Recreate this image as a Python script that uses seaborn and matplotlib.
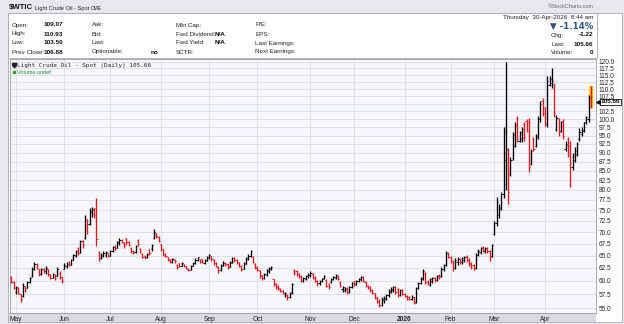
import numpy as np
import pandas as pd
import matplotlib
matplotlib.use("Agg")
import matplotlib.pyplot as plt
from matplotlib.ticker import FixedLocator, NullLocator, FixedFormatter
from matplotlib.patches import Rectangle
import seaborn as sns

# ---------------- data ----------------
holidays = ["2025-05-26", "2025-06-19", "2025-07-04", "2025-09-01", "2025-11-27",
            "2025-12-25", "2026-01-01", "2026-01-19", "2026-02-16", "2026-04-03"]
start_date, end_date = "2025-04-29", "2026-04-30"

opens = [
    # Apr29 - May
    60.8, 59.8, 58.0, 58.6, 57.5, 57.2, 59.0, 58.7, 59.8, 61.0, 62.3, 63.2, 62.2, 61.4, 62.3, 61.8, 62.2, 61.3, 60.6, 61.2, 61.0, 61.6, 60.7,
    # Jun
    62.3, 62.8, 63.6, 63.1, 64.1, 65.0, 66.6, 65.6, 68.0, 68.6, 72.8, 71.8, 74.5, 75.4, 75.5, 65.8, 64.4, 65.0, 65.2, 65.5,
    # Jul
    65.0, 66.0, 67.0, 66.6, 67.6, 68.3, 67.6, 68.6, 67.8, 66.6, 66.0, 65.7, 68.2, 66.4, 65.4, 65.0, 64.7, 66.2, 66.4, 68.6, 69.8, 69.0,
    # Aug
    67.4, 66.3, 65.3, 64.6, 64.2, 63.6, 64.1, 63.1, 63.4, 62.9, 63.2, 62.8, 62.3, 62.1, 62.9, 63.4, 64.0, 64.2, 64.2, 63.4, 63.9,
    # Sep
    64.4, 64.9, 64.1, 63.4, 62.7, 62.0, 62.9, 63.5, 63.2, 62.7, 63.5, 64.5, 64.1, 63.5, 62.9, 62.3, 63.3, 64.2, 65.0, 64.8, 63.3,
    # Oct
    62.6, 61.9, 61.1, 60.6, 61.2, 61.8, 62.2, 60.3, 59.4, 59.1, 58.5, 58.2, 57.5, 57.4, 57.0, 57.8, 62.0, 61.8, 61.4, 61.0, 60.0, 60.4, 60.9,
    # Nov
    61.1, 61.3, 60.7, 60.0, 59.5, 60.0, 60.6, 60.2, 59.4, 59.8, 60.4, 60.6, 61.0, 59.8, 58.4, 58.2, 58.6, 58.0, 58.8,
    # Dec
    59.9, 59.4, 59.9, 60.3, 60.7, 59.8, 59.0, 58.8, 58.2, 57.7, 57.0, 56.3, 55.6, 56.5, 56.7, 57.3, 58.0, 58.3, 58.8, 58.4, 57.4, 58.2,
    # Jan
    57.6, 57.2, 57.0, 56.6, 57.0, 56.2, 58.6, 59.6, 60.4, 61.5, 60.0, 59.2, 60.0, 60.6, 60.2, 61.2, 61.0, 62.2, 63.0, 65.6,
    # Feb
    64.8, 63.8, 62.4, 63.6, 64.3, 63.6, 64.0, 64.9, 64.0, 63.4, 63.0, 62.4, 65.2, 65.8, 66.7, 66.0, 66.6, 66.0, 65.0,
    # Mar
    69.6, 72.0, 73.8, 75.5, 79.0, 88.0, 90.8, 84.0, 88.5, 92.0, 100.5, 93.5, 94.0, 98.5, 99.5, 99.0, 87.0, 94.0, 92.0, 94.5, 100.0, 106.0,
    # Apr
    103.5, 98.5, 111.5, 112.0, 110.0, 97.0, 100.0, 96.5, 99.5, 91.0, 94.0, 92.0, 86.0, 88.0, 89.5, 94.0, 95.5, 96.5, 99.0, 100.0, 109.07,
]
highs = [
    61.0, 60.0, 59.1, 58.8, 57.6, 59.5, 59.0, 60.0, 60.8, 62.6, 63.6, 63.4, 62.3, 62.5, 62.5, 62.8, 62.3, 61.4, 61.6, 61.4, 62.6, 61.8, 60.8,
    63.4, 63.6, 63.8, 64.3, 65.4, 66.2, 66.8, 68.3, 68.2, 73.9, 73.0, 75.6, 75.8, 75.5, 78.0, 66.0, 65.6, 66.0, 66.0, 65.6,
    66.2, 67.0, 67.2, 68.0, 68.6, 68.4, 67.8, 68.8, 68.0, 66.8, 66.2, 67.2, 68.4, 66.5, 65.5, 65.1, 65.6, 66.4, 67.4, 70.6, 69.9, 69.2,
    67.4, 66.4, 65.5, 64.8, 64.3, 64.5, 64.2, 63.2, 63.5, 63.7, 63.3, 62.9, 62.4, 63.1, 63.7, 64.4, 64.8, 64.3, 64.3, 64.2, 65.0,
    65.4, 65.0, 64.3, 63.6, 62.8, 63.3, 63.8, 63.6, 63.4, 63.9, 64.7, 64.6, 64.2, 63.6, 63.0, 63.7, 64.6, 65.4, 66.2, 65.0, 63.4,
    62.8, 62.0, 61.2, 61.6, 62.2, 62.7, 62.8, 60.4, 59.5, 59.2, 58.6, 58.3, 58.0, 57.6, 58.0, 59.6, 62.2, 62.0, 61.6, 61.2, 60.8, 61.2, 61.5,
    61.8, 61.5, 60.9, 60.1, 60.2, 60.6, 61.2, 60.4, 59.6, 60.6, 61.0, 61.3, 61.2, 60.0, 59.0, 58.8, 58.8, 59.0, 59.8,
    60.0, 60.2, 60.6, 60.9, 60.9, 59.9, 59.2, 59.0, 58.5, 57.8, 57.1, 56.6, 57.0, 57.2, 57.6, 58.4, 58.8, 59.0, 59.0, 58.6, 58.4, 58.4,
    57.8, 57.4, 57.2, 57.3, 57.1, 58.8, 59.8, 60.8, 62.2, 61.7, 60.2, 60.6, 60.8, 60.8, 61.2, 61.4, 62.6, 63.2, 66.0, 65.8,
    65.0, 64.0, 64.4, 64.6, 64.5, 64.8, 65.0, 65.2, 64.4, 63.6, 63.2, 65.6, 66.3, 66.8, 66.9, 66.8, 66.8, 66.2, 67.4,
    72.5, 78.1, 76.5, 79.5, 97.6, 120.0, 91.2, 88.8, 96.2, 99.0, 101.0, 96.5, 97.5, 99.0, 100.0, 100.5, 91.0, 94.7, 95.5, 101.0, 106.0, 106.8,
    104.0, 114.5, 114.5, 117.5, 112.0, 101.5, 100.5, 99.5, 100.0, 93.5, 94.7, 93.3, 90.0, 91.5, 93.0, 97.3, 97.5, 99.3, 101.0, 108.0, 110.93,
]
lows = [
    59.6, 58.4, 57.6, 57.6, 56.2, 57.0, 58.0, 58.6, 59.5, 60.8, 62.0, 62.2, 60.9, 61.2, 61.6, 61.4, 61.0, 60.3, 60.5, 60.2, 61.0, 60.4, 59.6,
    62.2, 62.5, 62.8, 63.0, 64.0, 64.8, 65.2, 65.5, 66.5, 68.5, 69.6, 71.5, 73.5, 73.3, 67.0, 63.9, 64.2, 64.8, 64.8, 64.6,
    64.9, 65.8, 66.2, 66.5, 67.3, 67.6, 66.6, 67.3, 67.0, 65.6, 65.4, 65.5, 67.0, 65.5, 64.5, 64.3, 64.5, 65.2, 66.0, 68.4, 68.8, 67.8,
    66.0, 64.9, 64.6, 63.8, 63.4, 63.4, 63.5, 62.2, 62.6, 62.8, 62.6, 62.3, 61.8, 62.0, 62.8, 63.3, 63.9, 63.4, 63.5, 63.3, 63.8,
    64.2, 63.9, 63.0, 62.6, 61.5, 61.9, 62.8, 62.8, 62.3, 62.6, 63.4, 63.6, 63.2, 62.6, 61.8, 62.2, 63.2, 64.0, 64.8, 63.4, 62.2,
    61.8, 60.6, 60.2, 60.4, 61.0, 61.6, 62.0, 59.0, 58.4, 58.3, 57.9, 57.6, 57.0, 56.5, 56.8, 57.6, 61.2, 61.0, 60.6, 59.8, 59.7, 60.2, 60.6,
    60.8, 60.4, 59.8, 59.0, 59.3, 59.8, 60.4, 58.8, 58.5, 59.6, 60.2, 60.4, 60.2, 58.8, 58.0, 57.9, 57.6, 57.8, 58.6,
    59.0, 59.2, 59.7, 60.0, 59.8, 58.8, 58.4, 58.0, 57.5, 56.6, 56.0, 55.3, 55.4, 56.0, 56.5, 57.0, 57.8, 58.0, 57.6, 57.0, 57.2, 57.4,
    57.0, 56.4, 56.4, 56.4, 55.7, 56.0, 58.4, 59.4, 60.2, 59.4, 59.2, 59.0, 59.6, 59.8, 60.0, 60.4, 60.8, 61.8, 62.8, 64.4,
    63.4, 61.8, 62.2, 63.0, 63.2, 63.2, 63.6, 63.6, 62.8, 62.2, 62.0, 62.2, 65.0, 65.4, 65.8, 65.6, 65.6, 63.9, 64.8,
    69.3, 71.4, 73.3, 75.0, 78.0, 80.0, 76.6, 83.7, 88.0, 91.6, 93.0, 93.0, 93.0, 93.5, 96.0, 84.6, 86.5, 90.4, 91.5, 94.0, 99.3, 101.2,
    98.0, 97.6, 111.0, 110.5, 100.8, 96.5, 95.0, 96.0, 94.0, 90.5, 88.7, 80.6, 85.3, 87.5, 89.0, 93.5, 94.8, 96.0, 98.5, 99.3, 103.50,
]
closes = [
    59.8, 58.7, 58.8, 57.8, 56.6, 59.1, 58.3, 59.8, 60.6, 62.2, 63.3, 62.5, 61.3, 62.2, 61.9, 62.4, 61.3, 60.6, 61.3, 60.6, 62.2, 60.8, 60.0,
    63.0, 63.3, 63.1, 64.1, 65.2, 65.9, 65.5, 68.0, 67.3, 73.0, 71.8, 74.9, 75.2, 74.0, 68.5, 64.4, 65.2, 65.6, 65.8, 65.0,
    66.0, 66.8, 66.5, 67.8, 68.3, 67.8, 67.0, 67.8, 67.3, 65.9, 65.6, 66.9, 67.4, 65.7, 64.8, 64.6, 65.3, 65.5, 67.1, 70.0, 69.2, 68.0,
    66.3, 65.2, 64.9, 64.0, 63.7, 64.2, 63.8, 62.6, 62.9, 63.4, 62.9, 62.5, 62.0, 62.9, 63.5, 64.1, 64.6, 63.7, 63.8, 64.0, 64.6,
    65.1, 64.2, 63.4, 62.9, 62.0, 63.0, 63.5, 63.1, 62.6, 63.6, 64.5, 64.0, 63.6, 62.9, 62.2, 63.5, 64.4, 65.0, 65.9, 63.6, 62.5,
    62.0, 61.0, 60.6, 61.3, 62.0, 62.4, 62.6, 59.4, 58.8, 58.6, 58.1, 57.9, 57.8, 57.0, 57.8, 59.4, 61.5, 61.3, 60.9, 60.0, 60.5, 61.0, 61.2,
    61.6, 60.6, 60.0, 59.4, 60.0, 60.4, 61.0, 59.0, 58.8, 60.4, 60.8, 61.1, 60.4, 59.0, 58.8, 58.5, 57.9, 58.8, 59.5,
    59.2, 60.0, 60.4, 60.7, 60.0, 59.1, 58.7, 58.3, 57.8, 56.9, 56.2, 55.6, 56.7, 56.9, 57.3, 58.1, 58.5, 58.8, 57.9, 57.3, 58.2, 57.6,
    57.2, 56.7, 56.6, 57.1, 56.0, 58.6, 59.5, 60.5, 61.8, 59.8, 59.5, 60.3, 60.6, 60.1, 61.0, 60.7, 62.3, 63.0, 65.5, 64.8,
    63.8, 62.4, 64.0, 64.3, 63.6, 64.5, 64.8, 64.0, 63.2, 62.6, 62.4, 65.2, 66.0, 66.5, 66.1, 66.6, 65.9, 64.6, 67.2,
    72.0, 77.0, 75.8, 79.0, 96.0, 91.0, 79.5, 88.0, 95.2, 98.2, 94.0, 96.0, 97.0, 94.5, 96.5, 86.0, 90.5, 91.0, 95.0, 100.0, 105.0, 102.0,
    98.5, 113.0, 113.5, 113.0, 102.0, 100.5, 96.0, 99.0, 95.0, 92.5, 89.5, 87.0, 89.0, 90.5, 92.5, 96.0, 96.8, 99.0, 100.6, 106.88, 105.66,
]

price_ticks = [55.0, 57.5, 60.0, 62.5, 65.0, 67.5, 70.0, 72.5, 75.0, 77.5, 80.0, 82.5, 85.0,
               87.5, 90.0, 92.5, 95.0, 97.5, 100.0, 102.5, 105.0, 107.5, 110.0, 112.5,
               115.0, 117.5, 120.0]
last_price = 105.66

# ---------------- figure ----------------
sns.set_theme(style="white")
plt.rcParams["font.family"] = ["Liberation Sans", "DejaVu Sans"]

W, H = 624, 324
fig = plt.figure(figsize=(W / 100, H / 100), dpi=100)
fig.patch.set_facecolor("#e7e8eb")

def fx(px):
    return px / W

def fy(py):
    return 1 - py / H

# content background, header box and bottom date strip (behind the axes)
fig.add_artist(Rectangle((fx(8), fy(322)), fx(614), 309 / H, transform=fig.transFigure,
                         facecolor="white", edgecolor="#a8aab0", lw=0.6, zorder=-3))
fig.add_artist(Rectangle((fx(8), fy(58)), fx(589), 45 / H, transform=fig.transFigure,
                         facecolor="white", edgecolor="#a8aab0", lw=0.6, zorder=-2))
fig.add_artist(Rectangle((fx(9), fy(322)), fx(587), 9 / H, transform=fig.transFigure,
                         facecolor="#d9dbe0", edgecolor="none", zorder=-2))

# title line
fig.text(fx(9), fy(8), "$WTIC", fontsize=5.6, fontweight="bold", va="center", color="#111")
fig.text(fx(35), fy(8.5), "Light Crude Oil - Spot", fontsize=4.1, va="center", color="#222")
fig.text(fx(91), fy(8.5), "CME", fontsize=3.6, va="center", color="#222")
fig.text(fx(594), fy(7), "\u00a9StockCharts.com", fontsize=4.0, va="center", ha="right", color="#666")

# header table
lab_kw = dict(fontsize=4.5, va="center", color="#222")
val_kw = dict(fontsize=4.6, va="center", color="#111", fontweight="bold")
rows_y = [25, 34, 43, 52]
col1 = ["Open:", "High:", "Low:", "Prev Close:"]
col1v = ["109.07", "110.93", "103.50", "106.88"]
col2 = ["Ask:", "Bid:", "Last:", "Optionable:"]
col3 = ["Mkt Cap:", "Fwd Dividend:", "Fwd Yield:", "SCTR:"]
col3v = ["", "N/A", "N/A", ""]
col4 = ["P/E:", "EPS:", "Last Earnings:", "Next Earnings:"]
for r, yy in enumerate(rows_y):
    fig.text(fx(12), fy(yy), col1[r], **lab_kw)
    fig.text(fx(44), fy(yy), col1v[r], **val_kw)
    fig.text(fx(92), fy(yy), col2[r], **lab_kw)
    fig.text(fx(176), fy(yy), col3[r], **lab_kw)
    if col3v[r]:
        fig.text(fx(215), fy(yy), col3v[r], **val_kw)
    fig.text(fx(255), fy(yy), col4[r], **lab_kw)
fig.text(fx(158), fy(52), "no", ha="right", **val_kw)

fig.text(fx(593), fy(17), "Thursday  30-Apr-2026  8:44 am", ha="right", **lab_kw)
fig.text(fx(593), fy(26), "\u25bc -1.14%", ha="right", fontsize=6.2, fontweight="bold",
         va="center", color="#30508c", family=["DejaVu Sans"])
fig.text(fx(551), fy(35), "Chg:", **lab_kw)
fig.text(fx(593), fy(35), "-1.22", ha="right", **val_kw)
fig.text(fx(551), fy(44), "Last:", **lab_kw)
fig.text(fx(593), fy(44), "105.66", ha="right", **val_kw)
fig.text(fx(551), fy(53), "Volume:", **lab_kw)
fig.text(fx(593), fy(53), "0", ha="right", **val_kw)

# ---------------- price panel ----------------
ax = fig.add_axes([fx(10), fy(313), 586 / W, 254 / H])
ax.set_facecolor("#f5f7fb")

dates = pd.bdate_range(start_date, end_date, freq="C", holidays=holidays)
df = pd.DataFrame({"date": dates[:len(closes)], "open": opens, "high": highs,
                   "low": lows, "close": closes})
df["x"] = np.arange(len(df))
df["color"] = np.where(df["close"] >= df["open"], "#000000", "#e8161c")

# month ticks
mstart = df.index[(df["date"].dt.month != df["date"].dt.month.shift(1))][1:]
mlabels = ["2026" if df.loc[i, "date"].month == 1 else df.loc[i, "date"].strftime("%b")
           for i in mstart]

ax.set_yscale("log")
ax.set_ylim(54.2, 121.0)
ax.set_xlim(-0.6, 254.2)
ax.yaxis.set_major_locator(FixedLocator(price_ticks))
ax.yaxis.set_minor_locator(NullLocator())
# the 105.0 label is hidden behind the last-price tag in the reference
ax.yaxis.set_major_formatter(FixedFormatter(
    ["" if abs(t - 105.0) < 0.01 else f"{t:.1f}" for t in price_ticks]))
ax.yaxis.tick_right()
ax.tick_params(axis="y", labelsize=4.7, length=0, pad=2, labelcolor="#222")
ax.set_xticks(list(mstart))
ax.set_xticklabels(mlabels)
ax.tick_params(axis="x", labelsize=4.8, length=0, pad=2.0, labelcolor="#222")
for t in ax.get_xticklabels():
    if t.get_text() == "2026":
        t.set_fontweight("bold")
ax.grid(True, which="major", color="#d9dde5", lw=0.6)
ax.set_axisbelow(True)
for s in ax.spines.values():
    s.set_color("#9a9ca2")
    s.set_linewidth(0.6)

last = df.iloc[-1]
body = df.iloc[:-1]
ax.vlines(last["x"], last["low"], last["high"], color="#ffd21a", lw=3.2, zorder=2)
ax.vlines(body["x"], body["low"], body["high"], colors=body["color"], lw=0.95, zorder=3)
ax.hlines(body["open"], body["x"] - 0.5, body["x"], colors=body["color"], lw=0.7, zorder=3)
ax.hlines(body["close"], body["x"], body["x"] + 0.5, colors=body["color"], lw=0.7, zorder=3)
ax.vlines(last["x"], last["low"], last["high"], color="#e8161c", lw=1.0, zorder=4)
ax.hlines(last["open"], last["x"] - 0.5, last["x"], color="#e8161c", lw=0.7, zorder=4)
ax.hlines(last["close"], last["x"], last["x"] + 0.5, color="#e8161c", lw=0.7, zorder=4)

# last price tag
ax.annotate(f"{last_price:.2f}", xy=(1.0, last_price), xycoords=("axes fraction", "data"),
            xytext=(3.5, 0), textcoords="offset points", ha="left", va="center",
            fontsize=4.6, fontweight="bold", color="#111",
            bbox=dict(boxstyle="square,pad=0.12", fc="white", ec="#111", lw=0.6),
            annotation_clip=False, zorder=6)
ax.plot([1.004], [last_price], marker="<", ms=2.6, color="#111",
        transform=ax.get_yaxis_transform(), clip_on=False, zorder=6)

# in-panel legend
ax.text(0.012, 0.985, "Light Crude Oil - Spot (Daily) 105.66", transform=ax.transAxes,
        fontsize=4.3, va="top", ha="left", color="#222", family=["DejaVu Sans Mono"])
ax.plot([0.006], [0.975], marker="$\u03a8$", ms=3, color="#222", transform=ax.transAxes, clip_on=False)
ax.plot([0.007], [0.948], marker="s", ms=2.0, color="#2e9a2e", transform=ax.transAxes)
ax.text(0.012, 0.958, "Volume undef", transform=ax.transAxes, fontsize=4.0,
        va="top", ha="left", color="#2e8b2e")

fig.savefig("out.png", dpi=100, facecolor=fig.get_facecolor())
